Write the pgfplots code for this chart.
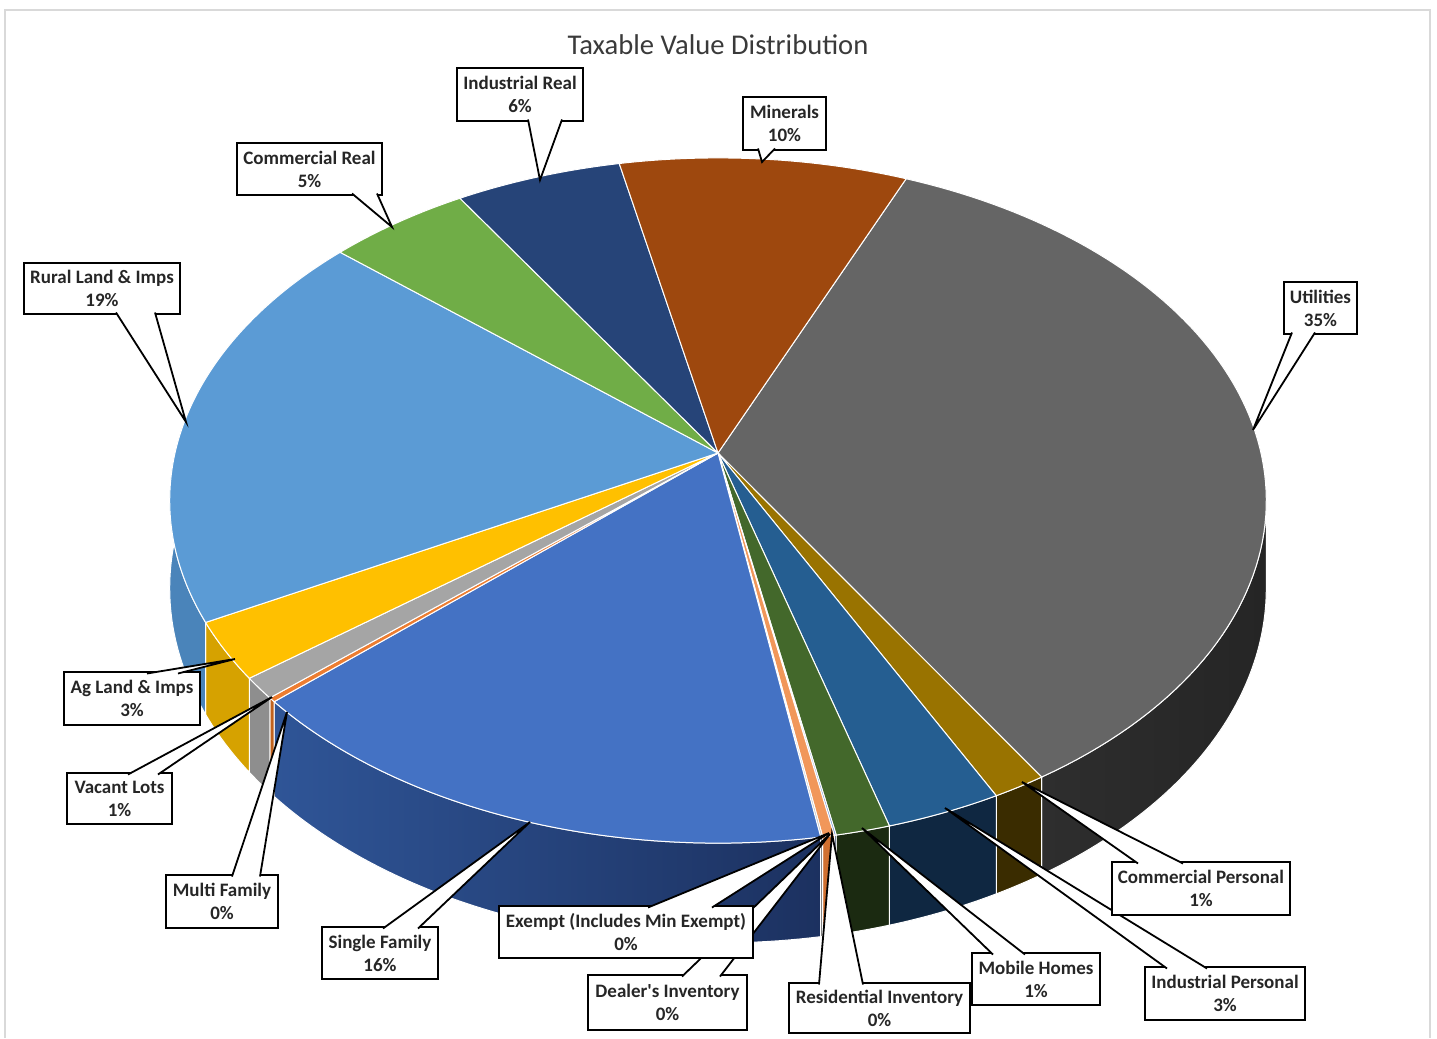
\documentclass[border=0pt]{standalone}
\usepackage{pgfplots}
\pgfplotsset{compat=1.18}
\usepackage{fontspec}
\setmainfont{Carlito}[Ligatures=TeXOff]

% top colours
\definecolor{tUtil}{HTML}{656565}
\definecolor{tCP}{HTML}{997300}
\definecolor{tIP}{HTML}{255E91}
\definecolor{tMob}{HTML}{43682B}
\definecolor{tRes}{HTML}{698ED0}
\definecolor{tDeal}{HTML}{F1975A}
\definecolor{tEx}{HTML}{B7B7B7}
\definecolor{tSin}{HTML}{4472C4}
\definecolor{tMul}{HTML}{ED7D31}
\definecolor{tVac}{HTML}{A5A5A5}
\definecolor{tAg}{HTML}{FFC000}
\definecolor{tRur}{HTML}{5B9BD5}
\definecolor{tCR}{HTML}{70AD47}
\definecolor{tIR}{HTML}{264478}
\definecolor{tMin}{HTML}{9E480E}
% side colours
\definecolor{sUtilA}{HTML}{2E2E2E}
\definecolor{sUtilB}{HTML}{252525}
\definecolor{sCP}{HTML}{3A2C00}
\definecolor{sIP}{HTML}{0F2741}
\definecolor{sMob}{HTML}{1B2A11}
\definecolor{sRes}{HTML}{2A3A5A}
\definecolor{sDeal}{HTML}{D07030}
\definecolor{sEx}{HTML}{606060}
\definecolor{sSinA}{HTML}{2F5597}
\definecolor{sSinB}{HTML}{1C3160}
\definecolor{sMul}{HTML}{C0621E}
\definecolor{sVac}{HTML}{8E8E8E}
\definecolor{sAg}{HTML}{D6A200}
\definecolor{sRur}{HTML}{4A84BA}
\definecolor{labcol}{HTML}{262626}
\definecolor{titcol}{HTML}{3A3A3A}
\definecolor{framecol}{HTML}{D9D9D9}

% slice values (percent), clockwise starting at the Minerals|Utilities edge (67 deg)
\pgfmathsetmacro\aZ{67}
\pgfmathsetmacro\aA{\aZ-3.6*34.8}  % Utilities
\pgfmathsetmacro\aB{\aA-3.6*1.4}   % Commercial Personal
\pgfmathsetmacro\aC{\aB-3.6*3.0}   % Industrial Personal
\pgfmathsetmacro\aD{\aC-3.6*1.4}   % Mobile Homes
\pgfmathsetmacro\aE{\aD-3.6*0.05}  % Residential Inventory
\pgfmathsetmacro\aF{\aE-3.6*0.3}   % Dealer's Inventory
\pgfmathsetmacro\aG{\aF-3.6*0.05}  % Exempt
\pgfmathsetmacro\aH{\aG-3.6*15.9}  % Single Family
\pgfmathsetmacro\aI{\aH-3.6*0.2}   % Multi Family
\pgfmathsetmacro\aJ{\aI-3.6*1.0}   % Vacant Lots
\pgfmathsetmacro\aK{\aJ-3.6*2.7}   % Ag Land & Imps
\pgfmathsetmacro\aL{\aK-3.6*19.1}  % Rural Land & Imps
\pgfmathsetmacro\aM{\aL-3.6*4.8}   % Commercial Real
\pgfmathsetmacro\aN{\aM-3.6*5.6}   % Industrial Real
\pgfmathsetmacro\aO{\aN-3.6*9.7}   % Minerals

\newcommand\slicetop[3]{\addplot[fill=#1,draw=white,line width=0.5pt,domain=#2:#3,samples=90,variable=\t] ({px(\t)},{py(\t)}) -- (718,453) -- cycle;}
\newcommand\sideface[3]{\addplot[#1,draw=white,line width=0.5pt,domain=0:3,samples=181,variable=\s] ({px(th(\s,#2,#3))},{py(th(\s,#2,#3))+dd(\s)*dp(th(\s,#2,#3))}) -- cycle;}
\newcommand\lab{\bfseries\fontsize{9.5}{11.5}\selectfont}
% box x1,y1,x2,y2 ; base x1, base x2, base y ; target ; text
\newcommand\callout[9]{%
  \draw[line width=0.9pt,fill=white] (#1,#2) rectangle (#3,#4);
  \fill[white] (#5,#7) -- (#8) -- (#6,#7) -- cycle;
  \draw[line width=0.9pt] (#5,#7) -- (#8) -- (#6,#7);
  \node[font=\lab,align=center,text=labcol] at ({(#1+#3)/2},{(#2+#4)/2}) {#9};}

\begin{document}
\begin{tikzpicture}
\begin{axis}[width=718.5pt,height=519pt,scale only axis,
  xmin=0,xmax=1437,ymin=0,ymax=1038,y dir=reverse,hide axis,clip=false,
  declare function={
    px(\t)=718+543*cos(\t)/(1+0.1387*sin(\t));
    py(\t)=453-336*sin(\t)/(1+0.1387*sin(\t));
    dp(\t)=86/(1+0.1387*sin(\t));
    th(\s,\a,\b)=(\s<=1)*(\a+(\b-\a)*\s)+(\s>1)*(\s<=2)*\b+(\s>2)*(\b+(\a-\b)*(\s-2));
    dd(\s)=(\s>1)*min(\s-1,1);
  }]
\path (0,0) rectangle (1437,1038);
\draw[framecol,line width=1pt] (5,1038) -- (5,10) -- (1430,10) -- (1430,1038);

% sides (front half)
\sideface{left color=sUtilA,right color=sUtilB}{-8}{\aA}
\sideface{fill=sCP}{\aA}{\aB}
\sideface{fill=sIP}{\aB}{\aC}
\sideface{fill=sMob}{\aC}{\aD}
\sideface{fill=sRes}{\aD}{\aE}
\sideface{fill=sDeal}{\aE}{\aF}
\sideface{fill=sEx}{\aF}{\aG}
\sideface{left color=sSinA,right color=sSinB}{\aG}{\aH}
\sideface{fill=sMul}{\aH}{\aI}
\sideface{fill=sVac}{\aI}{\aJ}
\sideface{fill=sAg}{\aJ}{\aK}
\sideface{fill=sRur}{\aK}{-188}

% top faces
\slicetop{tUtil}{\aA}{\aZ}
\slicetop{tCP}{\aB}{\aA}
\slicetop{tIP}{\aC}{\aB}
\slicetop{tMob}{\aD}{\aC}
\slicetop{tRes}{\aE}{\aD}
\slicetop{tDeal}{\aF}{\aE}
\slicetop{tEx}{\aG}{\aF}
\slicetop{tSin}{\aH}{\aG}
\slicetop{tMul}{\aI}{\aH}
\slicetop{tVac}{\aJ}{\aI}
\slicetop{tAg}{\aK}{\aJ}
\slicetop{tRur}{\aL}{\aK}
\slicetop{tCR}{\aM}{\aL}
\slicetop{tIR}{\aN}{\aM}
\slicetop{tMin}{\aO}{\aN}

\node[font=\fontsize{14.3}{17}\selectfont,text=titcol] at (718,45) {Taxable Value Distribution};

\callout{457}{68}{583}{121}{528}{562}{119.5}{540,180}{Industrial Real\\6\%}
\callout{743}{97}{826}{150}{758}{775}{148.5}{762,162}{Minerals\\10\%}
\callout{237}{143}{382}{195}{352}{377}{193.5}{392,227}{Commercial Real\\5\%}
\callout{24}{263}{180}{314}{116}{155}{312.5}{186,422}{Rural Land \& Imps\\19\%}
\callout{1284}{282}{1357}{334}{1292}{1315}{332.5}{1253,430}{Utilities\\35\%}
\callout{64}{672}{200}{725}{147}{178}{673.5}{235,659}{Ag Land \& Imps\\3\%}
\callout{67}{773}{172}{824}{128}{158}{774.5}{272,697}{Vacant Lots\\1\%}
\callout{166}{875}{278}{928}{232}{260}{876.5}{287,712}{Multi Family\\0\%}
\callout{322}{927}{438}{979}{383}{418}{928.5}{530,822}{Single Family\\16\%}
\callout{1145}{967}{1305}{1020}{1167}{1207}{968.5}{945,808}{Industrial Personal\\3\%}
\callout{1112}{862}{1290}{915}{1138}{1183}{863.5}{1022,782}{Commercial Personal\\1\%}
\callout{972}{953}{1100}{1005}{993}{1025}{954.5}{862,828}{Mobile Homes\\1\%}
\callout{789}{983}{970}{1033}{819}{863}{984.5}{832,834}{Residential Inventory\\0\%}
\callout{588}{975}{747}{1030}{682}{720}{976.5}{830,834}{Dealer's Inventory\\0\%}
\callout{499}{906}{753}{958}{648}{712}{907.5}{829,833}{Exempt (Includes Min Exempt)\\0\%}
\end{axis}
\end{tikzpicture}
\end{document}
